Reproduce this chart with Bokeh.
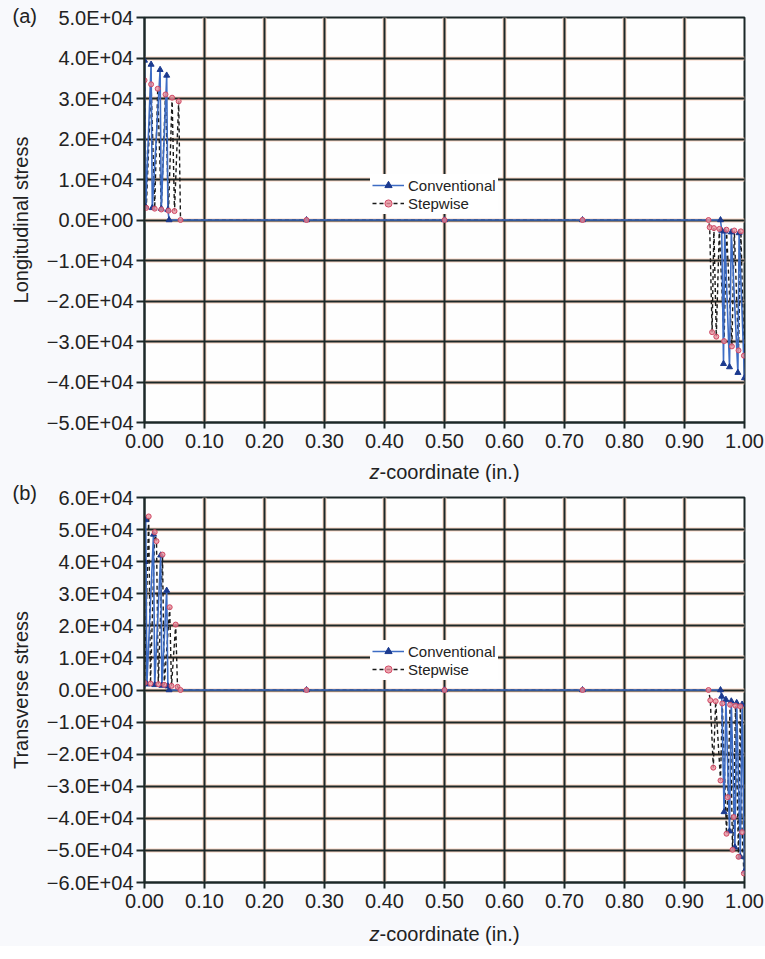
from bokeh.plotting import figure
from bokeh.layouts import column
from bokeh.models import Range1d, FixedTicker, CustomJSTickFormatter, Grid, Title
from bokeh.core.properties import value
from bokeh.embed import file_html
from bokeh.resources import INLINE

FONT = "Liberation Sans"

# ---------------- data ----------------
x_ticks = [0.0, 0.1, 0.2, 0.3, 0.4, 0.5, 0.6, 0.7, 0.8, 0.9, 1.0]
y_ticks_a = [-50000, -40000, -30000, -20000, -10000, 0, 10000, 20000, 30000, 40000, 50000]
y_ticks_b = [-60000, -50000, -40000, -30000, -20000, -10000, 0, 10000, 20000, 30000, 40000, 50000, 60000]

# (a) Longitudinal stress
conv_a_z = [0.000, 0.002, 0.011, 0.013, 0.026, 0.028, 0.037, 0.039, 0.041, 0.270, 0.500,
            0.730, 0.960, 0.962, 0.965, 0.967, 0.975, 0.978, 0.989, 0.991, 1.000]
conv_a_v = [39400, 3300, 38400, 3000, 37100, 2800, 35700, 2500, 0, 0, 0,
            0, 0, -2600, -35500, -2800, -36300, -3000, -37700, -3200, -39000]
step_a_z = [0.000, 0.003, 0.011, 0.017, 0.022, 0.028, 0.035, 0.040, 0.046, 0.050, 0.057, 0.060,
            0.270, 0.500, 0.730, 0.940, 0.942, 0.946, 0.949, 0.953, 0.958, 0.966, 0.970, 0.979,
            0.983, 0.990, 0.994, 0.999]
step_a_v = [34500, 3000, 33500, 2800, 32400, 2600, 31000, 2300, 30200, 2200, 29300, 0,
            0, 0, 0, 0, -1800, -27700, -2000, -28800, -2200, -29900, -2400, -31200,
            -2600, -32200, -2800, -33500]

# (b) Transverse stress
conv_b_z = [0.000, 0.002, 0.004, 0.015, 0.017, 0.027, 0.029, 0.037, 0.039, 0.041, 0.270, 0.500,
            0.730, 0.960, 0.962, 0.966, 0.969, 0.975, 0.978, 0.984, 0.987, 0.993, 0.996, 1.000]
conv_b_v = [40000, 53000, 1800, 48500, 1600, 42000, 1400, 31000, 1200, 0, 0, 0,
            0, 0, -2000, -38000, -3000, -44000, -3500, -49000, -4000, -52000, -4500, -56500]
step_b_z = [0.000, 0.007, 0.010, 0.017, 0.020, 0.023, 0.030, 0.033, 0.042, 0.045, 0.052, 0.055,
            0.060, 0.270, 0.500, 0.730, 0.940, 0.943, 0.948, 0.952, 0.960, 0.963, 0.970, 0.972,
            0.976, 0.980, 0.982, 0.985, 0.990, 0.993, 0.996, 0.999]
step_b_v = [2200, 54100, 2000, 49200, 46400, 1800, 42200, 1600, 25800, 1300, 20400, 1000,
            0, 0, 0, 0, 0, -3200, -24200, -3500, -28200, -4200, -44800, -33400,
            -4600, -49800, -39600, -4900, -52000, -5100, -44300, -57200]

series_names = ["Conventional", "Stepwise"]
x_title_parts = ["z", "-coordinate (in.)"]

# ---------------- styling ----------------
GRID_DARK = "#1c2828"
GRID_HALO = "#f8d4c2"
CONV_LINE = "#3d6cc4"
CONV_MARK = "#1b3a8f"
STEP_LINE = "#1a1a1a"
STEP_MARK = "#e8909c"
STEP_EDGE = "#d04a66"
TEXT = "#222222"
PAGE = "#f8f9fc"

y_fmt = CustomJSTickFormatter(code="""
if (tick == 0) { return "0.0E+00"; }
const m = tick / 1e4;
const s = m < 0 ? "\u2212" : "";
return s + Math.abs(m).toFixed(1) + "E+04";
""")
x_fmt = CustomJSTickFormatter(code="return tick.toFixed(2);")


def make_panel(tag, ylabel, yticks, conv_z, conv_v, step_z, step_v,
               height, border_top, tag_standoff, legend_loc):
    ymin, ymax = yticks[0], yticks[-1]
    p = figure(width=765, height=height, x_range=Range1d(0, 1), y_range=Range1d(ymin, ymax),
               output_backend="svg", toolbar_location=None,
               min_border_left=144, min_border_right=21, min_border_top=border_top,
               min_border_bottom=38)
    p.background_fill_color = "#fefefe"
    p.border_fill_color = PAGE
    p.outline_line_color = GRID_DARK
    p.outline_line_width = 2

    p.add_layout(Title(text=tag, align="left", offset=-132, standoff=tag_standoff,
                       vertical_align="bottom", text_font=FONT, text_font_size="20px",
                       text_font_style="normal", text_color=TEXT), "above")

    xt = FixedTicker(ticks=x_ticks)
    yt = FixedTicker(ticks=yticks)
    p.xaxis.ticker = xt
    p.yaxis.ticker = yt
    p.xaxis.formatter = x_fmt
    p.yaxis.formatter = y_fmt

    p.xgrid.ticker = xt
    p.ygrid.ticker = yt
    for g in (p.xgrid, p.ygrid):
        g.grid_line_color = GRID_HALO
        g.grid_line_width = 4
    p.add_layout(Grid(dimension=0, ticker=xt, grid_line_color=GRID_DARK, grid_line_width=2))
    p.add_layout(Grid(dimension=1, ticker=yt, grid_line_color=GRID_DARK, grid_line_width=2))

    for ax in (p.xaxis, p.yaxis):
        ax.axis_line_color = GRID_DARK
        ax.axis_line_width = 2
        ax.major_tick_line_color = GRID_DARK
        ax.major_tick_line_width = 2
        ax.major_tick_in = 0
        ax.minor_tick_line_color = None
        ax.major_label_text_font = FONT
        ax.major_label_text_font_size = "20px"
        ax.major_label_text_color = TEXT
    p.yaxis.major_tick_out = 8
    p.yaxis.major_label_standoff = 3
    p.xaxis.major_tick_out = 6
    p.xaxis.major_label_standoff = 5

    p.yaxis.axis_label = ylabel
    p.yaxis.axis_label_text_font = FONT
    p.yaxis.axis_label_text_font_size = "20px"
    p.yaxis.axis_label_text_font_style = "normal"
    p.yaxis.axis_label_text_color = TEXT
    p.yaxis.axis_label_standoff = 12

    # stepwise dashed line underneath, conventional solid line on top
    p.line(step_z, step_v, line_color=STEP_LINE, line_width=1.4, line_dash="4 3",
           legend_label=series_names[1])
    p.line(conv_z, conv_v, line_color=CONV_LINE, line_width=1.6, legend_label=series_names[0])
    p.scatter(conv_z, conv_v, marker="triangle", size=6, fill_color=CONV_MARK,
              line_color=CONV_MARK, legend_label=series_names[0])
    p.scatter(step_z, step_v, marker="circle", size=5, fill_color=STEP_MARK,
              line_color=STEP_EDGE, fill_alpha=0.8, legend_label=series_names[1])

    lg = p.legend[0]
    lg.items = list(reversed(lg.items))  # Conventional first
    lg.location = legend_loc
    lg.background_fill_color = "white"
    lg.background_fill_alpha = 1.0
    lg.border_line_alpha = 0
    lg.padding = 2
    lg.margin = 0
    lg.spacing = 0
    lg.label_standoff = 4
    lg.glyph_width = 32
    lg.glyph_height = 18
    lg.label_height = 18
    lg.label_text_font = FONT
    lg.label_text_font_size = "15px"
    lg.label_text_color = TEXT
    return p


def make_xtitle(height):
    # strip under a panel; its frame lines up with the panel frames above it
    s = figure(width=765, height=height, x_range=Range1d(0, 1), y_range=Range1d(0, 1),
               output_backend="svg", toolbar_location=None, x_axis_type=None,
               y_axis_type=None, min_border=0)
    s.outline_line_color = None
    s.background_fill_color = PAGE
    s.border_fill_color = PAGE
    s.grid.visible = False
    s.text(x=[0.5], y=[0.5], text=[x_title_parts[0]], x_offset=-75,
           text_font=value(FONT), text_font_size="20px", text_font_style="italic",
           text_color=TEXT, text_align="left", text_baseline="middle")
    s.text(x=[0.5], y=[0.5], text=[x_title_parts[1]], x_offset=-65,
           text_font=value(FONT), text_font_size="20px",
           text_color=TEXT, text_align="left", text_baseline="middle")
    return s


pa = make_panel("(a)", "Longitudinal stress", y_ticks_a, conv_a_z, conv_a_v, step_a_z, step_a_v,
                height=460, border_top=17, tag_standoff=-18, legend_loc=(226, 208))
sa = make_xtitle(22)
pb = make_panel("(b)", "Transverse stress", y_ticks_b, conv_b_z, conv_b_v, step_b_z, step_b_v,
                height=438, border_top=15, tag_standoff=-12, legend_loc=(226, 202))
sb = make_xtitle(26)

layout = column(pa, sa, pb, sb, spacing=0)
layout.styles = {"background-color": PAGE}

open("out.html", "w").write(file_html(layout, INLINE))
